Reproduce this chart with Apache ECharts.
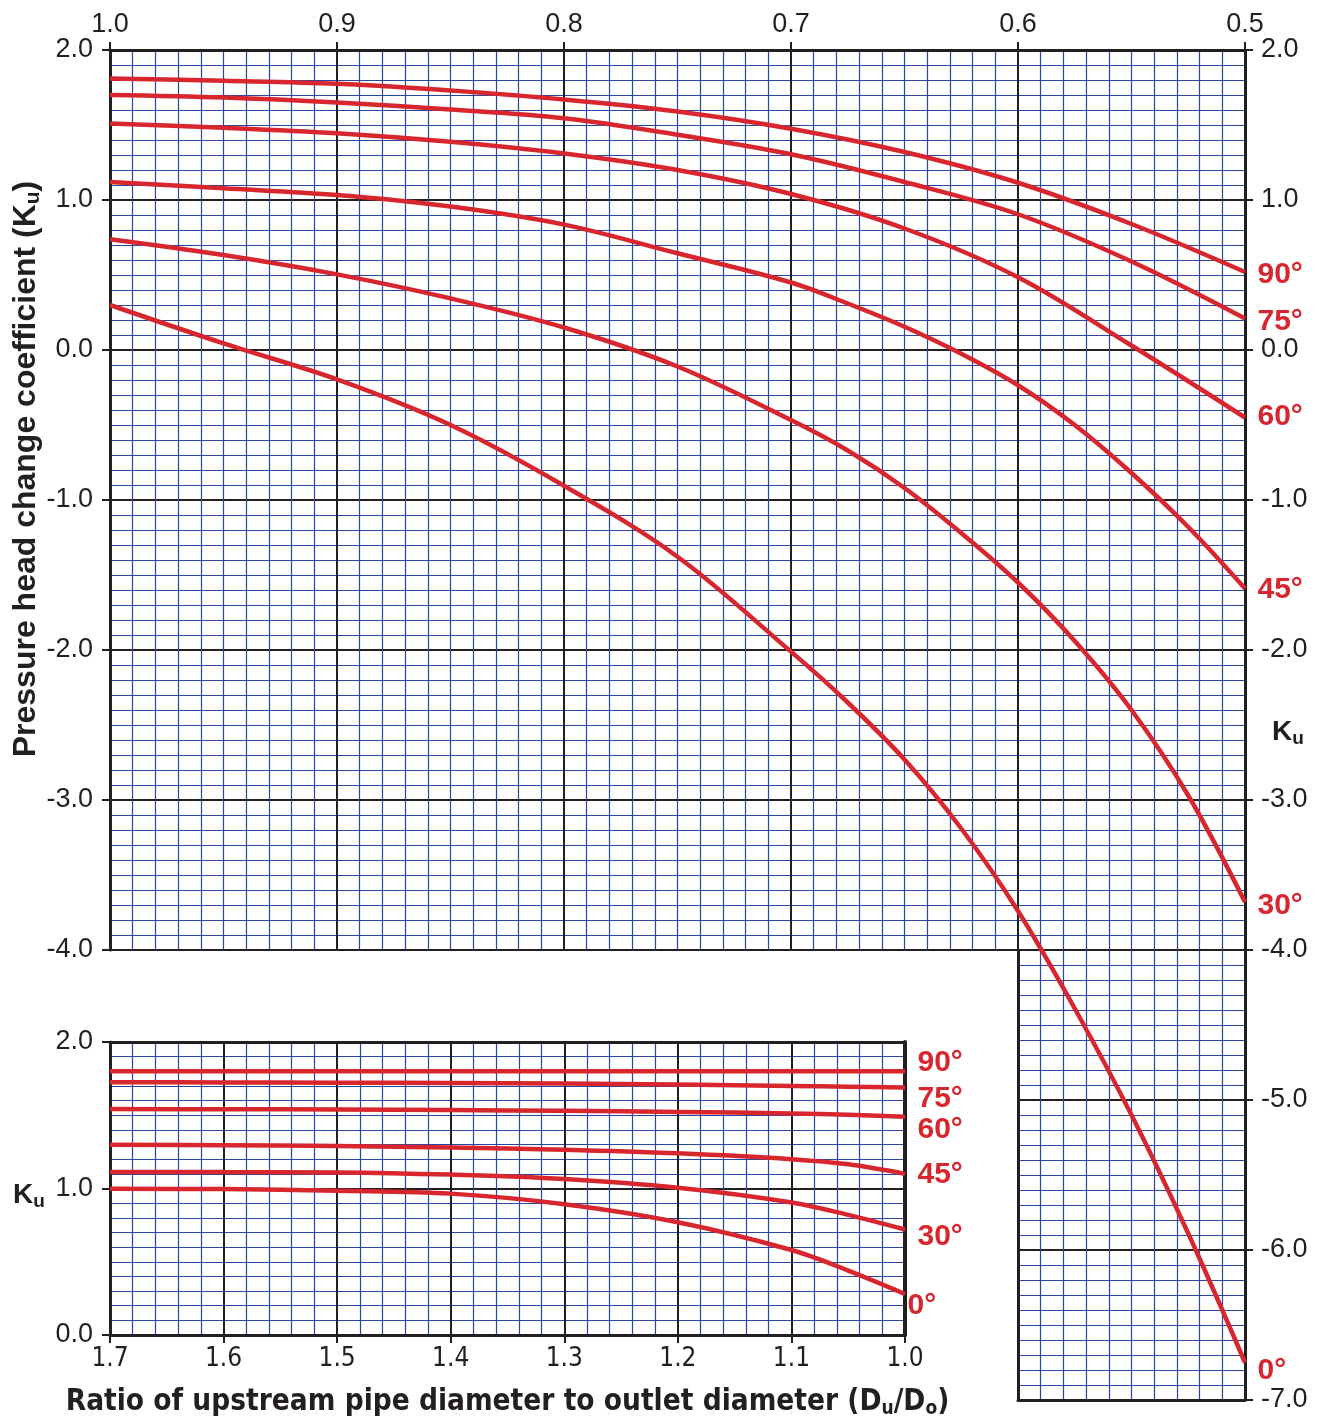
<!DOCTYPE html>
<html><head><meta charset="utf-8">
<script src="https://cdn.jsdelivr.net/npm/echarts@6/dist/echarts.min.js"></script>
<style>html,body{margin:0;padding:0;background:#fff}#c{width:1324px;height:1420px}</style>
</head><body><div id="c"></div>
<script>
// ---------- DATA ----------
// Upper chart: x = diameter ratio (1.0 -> 0.5), y = Ku
const mainX = [1.0, 0.95, 0.9, 0.85, 0.8, 0.75, 0.7, 0.65, 0.6, 0.55, 0.5];
const mainXFine = [1.0, 0.95, 0.9, 0.85, 0.8, 0.75, 0.7, 0.675, 0.65, 0.625, 0.6, 0.575, 0.55, 0.525, 0.5];
const main90 = [1.81, 1.795, 1.775, 1.73, 1.67, 1.59, 1.475, 1.32, 1.115, 0.84, 0.52];
const main75 = [1.70, 1.683, 1.65, 1.604, 1.545, 1.435, 1.305, 1.12, 0.905, 0.59, 0.21];
const main60 = [1.51, 1.482, 1.445, 1.388, 1.31, 1.20, 1.04, 0.81, 0.485, 0.03, -0.45];
const main45 = [1.12, 1.078, 1.033, 0.956, 0.836, 0.645, 0.45, 0.31, 0.155, -0.025, -0.235, -0.50, -0.82, -1.18, -1.59];
const main30 = [0.738, 0.633, 0.504, 0.344, 0.15, -0.11, -0.467, -0.67, -0.92, -1.22, -1.55, -1.94, -2.40, -2.97, -3.68];
const main0  = [0.30, 0.044, -0.196, -0.50, -0.905, -1.378, -2.011, -2.35, -2.73, -3.19, -3.74, -4.39, -5.10, -5.89, -6.75];
// Lower chart: x = Du/Do (1.7 -> 1.0), y = Ku
const lowX = [1.7, 1.6, 1.5, 1.4, 1.3, 1.2, 1.1, 1.05, 1.0];
const low90 = [1.80, 1.80, 1.80, 1.80, 1.80, 1.80, 1.80, 1.80, 1.80];
const low75 = [1.725, 1.724, 1.722, 1.72, 1.716, 1.71, 1.70, 1.695, 1.69];
const low60 = [1.542, 1.541, 1.539, 1.535, 1.53, 1.523, 1.512, 1.503, 1.49];
const low45 = [1.298, 1.295, 1.29, 1.28, 1.265, 1.24, 1.20, 1.165, 1.10];
const low30 = [1.113, 1.112, 1.11, 1.095, 1.065, 1.005, 0.905, 0.82, 0.72];
const low0  = [0.998, 0.996, 0.985, 0.965, 0.893, 0.77, 0.58, 0.44, 0.28];
const angleLabels = ['90°', '75°', '60°', '45°', '30°', '0°'];
const yTitle = 'Pressure head change coefficient (K';
const xTitle = 'Ratio of upstream pipe diameter to outlet diameter (D';

// ---------- STYLE ----------
const BLACK = '#231f20', BLUE = '#2a45a0', RED = '#d7262e';
const FONT = '"Liberation Sans", Arial, Helvetica, sans-serif';
const NARROW = '"Liberation Sans Narrow", "Arial Narrow", "DejaVu Sans Condensed", "Liberation Sans", sans-serif';
const mainLabelStyle = [{d:12,dy:3},{d:12,dy:3},{d:12,dy:-1},{d:12,dy:1},{d:12,dy:4},{d:12,dy:8}];
const lowLabelStyle  = [{d:12,dy:-9},{d:12,dy:11},{d:12,dy:13},{d:12,dy:1},{d:12,dy:7},{d:2,dy:12}];

const chart = echarts.init(document.getElementById('c'), null, {renderer: 'canvas'});

function fmt(v){ return (Math.abs(v) < 1e-9 ? 0 : v).toFixed(1); }
const minorLine = {show: true, lineStyle: {color: BLUE, width: 1.2}};
const majorLine = {show: true, lineStyle: {color: BLACK, width: 2}};
const axLine = {show: true, onZero: false, lineStyle: {color: BLACK, width: 3}};
const tick = {show: true, inside: false, length: 8, lineStyle: {color: BLACK, width: 2}};
const lbl = {color: BLACK, fontSize: 27, fontFamily: FONT, formatter: fmt};

function curve(name, xs, ys, xi, yi, ls) {
  const data = xs.map((x, i) => ({value: [x, ys[i]]}));
  if (ls) {
    data[data.length - 1].label = {
      show: true, position: 'right', distance: ls.d, offset: [0, ls.dy],
      formatter: name, color: RED, fontSize: 30, fontWeight: 'bold', fontFamily: FONT
    };
  }
  return {
    type: 'line', name, xAxisIndex: xi, yAxisIndex: yi, data,
    smooth: 0.35, symbol: 'circle', symbolSize: 1, showSymbol: true,
    lineStyle: {color: RED, width: 4.5}, itemStyle: {color: RED},
    label: {show: false}, silent: true, z: 5, clip: true
  };
}

const series = [
  curve(angleLabels[0], mainX, main90, 0, 0, mainLabelStyle[0]),
  curve(angleLabels[1], mainX, main75, 0, 0, mainLabelStyle[1]),
  curve(angleLabels[2], mainX, main60, 0, 0, mainLabelStyle[2]),
  curve(angleLabels[3], mainXFine, main45, 0, 0, mainLabelStyle[3]),
  curve(angleLabels[4], mainXFine, main30, 0, 0, mainLabelStyle[4]),
  curve(angleLabels[5], mainXFine, main0, 0, 0, null),
  curve(angleLabels[5], mainXFine, main0, 2, 2, mainLabelStyle[5]),
  curve(angleLabels[0], lowX, low90, 3, 4, lowLabelStyle[0]),
  curve(angleLabels[1], lowX, low75, 3, 4, lowLabelStyle[1]),
  curve(angleLabels[2], lowX, low60, 3, 4, lowLabelStyle[2]),
  curve(angleLabels[3], lowX, low45, 3, 4, lowLabelStyle[3]),
  curve(angleLabels[4], lowX, low30, 3, 4, lowLabelStyle[4]),
  curve(angleLabels[5], lowX, low0, 3, 4, lowLabelStyle[5])
];

const kuRich = {
  a: {fontSize: 28, fontWeight: 'bold', fontFamily: FONT, fill: BLACK, lineHeight: 32},
  b: {fontSize: 19, fontWeight: 'bold', fontFamily: FONT, fill: BLACK, verticalAlign: 'bottom', lineHeight: 32}
};

const option = {
  animation: false,
  backgroundColor: '#ffffff',
  grid: [
    {left: 110, top: 50, width: 1135, height: 900, containLabel: false},
    {left: 1018, top: 950, width: 227, height: 450, containLabel: false},
    {left: 110, top: 1042, width: 795, height: 300, containLabel: false}
  ],
  xAxis: [
    {gridIndex: 0, type: 'value', min: 0.5, max: 1.0, interval: 0.1, inverse: true, position: 'top',
     axisLine: axLine, axisTick: tick, axisLabel: Object.assign({}, lbl, {margin: 12}),
     splitLine: majorLine, minorTick: {show: false, splitNumber: 10}, minorSplitLine: minorLine, z: 3},
    {gridIndex: 0, type: 'value', min: 0.5, max: 1.0, interval: 0.1, inverse: true, position: 'bottom',
     axisLine: {show: true, onZero: false, lineStyle: {color: BLACK, width: 2}}, axisTick: {show: false},
     axisLabel: {show: false}, splitLine: {show: false}},
    {gridIndex: 1, type: 'value', min: 0.5, max: 0.6, interval: 0.1, inverse: true, position: 'bottom',
     axisLine: axLine, axisTick: {show: false}, axisLabel: {show: false},
     splitLine: {show: false}, minorTick: {show: false, splitNumber: 10}, minorSplitLine: minorLine},
    {gridIndex: 2, type: 'value', min: 1.0, max: 1.7, interval: 0.1, inverse: true, position: 'bottom',
     axisLine: axLine, axisTick: tick,
     axisLabel: Object.assign({}, lbl, {margin: 11, fontFamily: NARROW, fontSize: 26}),
     splitLine: majorLine, minorTick: {show: false, splitNumber: 5}, minorSplitLine: minorLine,
     name: '{a|' + xTitle + '}{b|u}{a|/D}{b|o}{a|)}', nameLocation: 'middle', nameGap: 50,
     nameTextStyle: {rich: {
       a: {fontSize: 29.5, fontWeight: 'bold', fontFamily: NARROW, color: BLACK, lineHeight: 34},
       b: {fontSize: 19, fontWeight: 'bold', fontFamily: NARROW, color: BLACK, verticalAlign: 'bottom', lineHeight: 34}
     }}},
    {gridIndex: 2, type: 'value', min: 1.0, max: 1.7, interval: 0.1, inverse: true, position: 'top',
     axisLine: axLine, axisTick: {show: false}, axisLabel: {show: false}, splitLine: {show: false}}
  ],
  yAxis: [
    {gridIndex: 0, type: 'value', min: -4, max: 2, interval: 1, position: 'left',
     axisLine: axLine, axisTick: tick, axisLabel: Object.assign({}, lbl, {margin: 17}),
     splitLine: majorLine, minorTick: {show: false, splitNumber: 10}, minorSplitLine: minorLine},
    {gridIndex: 0, type: 'value', min: -4, max: 2, interval: 1, position: 'right',
     axisLine: axLine, axisTick: tick, axisLabel: Object.assign({}, lbl, {margin: 16}),
     splitLine: {show: false}},
    {gridIndex: 1, type: 'value', min: -7, max: -4, interval: 1, position: 'right',
     axisLine: axLine, axisTick: tick, axisLabel: Object.assign({}, lbl, {margin: 16, showMaxLabel: false}),
     splitLine: majorLine, minorTick: {show: false, splitNumber: 10}, minorSplitLine: minorLine},
    {gridIndex: 1, type: 'value', min: -7, max: -4, interval: 1, position: 'left',
     axisLine: axLine, axisTick: {show: false}, axisLabel: {show: false}, splitLine: {show: false}},
    {gridIndex: 2, type: 'value', min: 0, max: 2, interval: 1, position: 'left',
     axisLine: axLine, axisTick: tick, axisLabel: Object.assign({}, lbl, {margin: 17}),
     splitLine: majorLine, minorTick: {show: false, splitNumber: 10}, minorSplitLine: minorLine},
    {gridIndex: 2, type: 'value', min: 0, max: 2, interval: 1, position: 'right',
     axisLine: {show: true, onZero: false, lineStyle: {color: BLACK, width: 4}}, axisTick: {show: false},
     axisLabel: {show: false}, splitLine: {show: false}}
  ],
  graphic: [
    {type: 'text', x: 26, y: 469, rotation: Math.PI / 2, z: 10,
     style: {text: '{a|' + yTitle + '}{b|u}{a|)}', align: 'center', verticalAlign: 'middle',
       rich: {a: {fontSize: 32, fontWeight: 'bold', fontFamily: FONT, fill: BLACK, lineHeight: 36},
              b: {fontSize: 21, fontWeight: 'bold', fontFamily: FONT, fill: BLACK, verticalAlign: 'bottom', lineHeight: 36}}}},
    {type: 'text', x: 1288, y: 732, z: 10,
     style: {text: '{a|K}{b|u}', align: 'center', verticalAlign: 'middle', rich: kuRich}},
    {type: 'text', x: 29, y: 1195, z: 10,
     style: {text: '{a|K}{b|u}', align: 'center', verticalAlign: 'middle', rich: kuRich}}
  ],
  series
};
chart.setOption(option);
</script>
</body></html>
